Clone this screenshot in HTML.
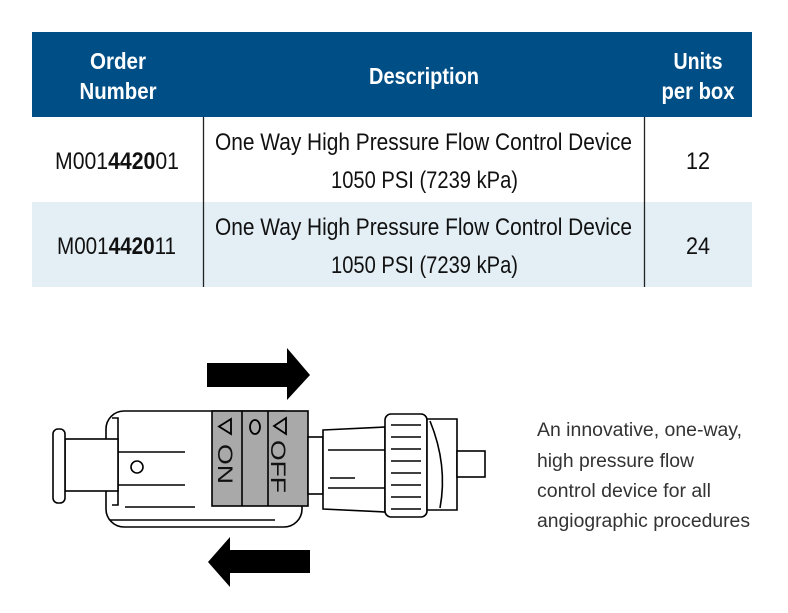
<!DOCTYPE html>
<html><head><meta charset="utf-8"><style>
html,body{margin:0;padding:0;background:#fff;}
svg{display:block;}
</style></head><body>
<svg width="788" height="613" viewBox="0 0 788 613" xmlns="http://www.w3.org/2000/svg" font-family="Liberation Sans, sans-serif">
<rect x="32" y="32" width="720" height="85" fill="#004e86"/>
<rect x="32" y="117" width="720" height="85" fill="#ffffff"/>
<rect x="32" y="202" width="720" height="85" fill="#e3eef5"/>
<line x1="203.5" y1="117" x2="203.5" y2="287" stroke="#222" stroke-width="1.3"/>
<line x1="644.5" y1="117" x2="644.5" y2="287" stroke="#222" stroke-width="1.3"/>
<g fill="#fff" font-weight="bold" font-size="23" text-anchor="middle">
<text x="118" y="69" textLength="56" lengthAdjust="spacingAndGlyphs">Order</text>
<text x="118" y="99" textLength="77" lengthAdjust="spacingAndGlyphs">Number</text>
<text x="424" y="84" textLength="110" lengthAdjust="spacingAndGlyphs">Description</text>
<text x="698" y="69" textLength="49" lengthAdjust="spacingAndGlyphs">Units</text>
<text x="698" y="99" textLength="73" lengthAdjust="spacingAndGlyphs">per box</text>
</g>
<g fill="#111" font-size="24">
<text x="55" y="169" textLength="124" lengthAdjust="spacingAndGlyphs">M001<tspan font-weight="bold">4420</tspan>01</text>
<text x="57" y="254" textLength="119" lengthAdjust="spacingAndGlyphs">M001<tspan font-weight="bold">4420</tspan>11</text>
<text x="215" y="150" textLength="417" lengthAdjust="spacingAndGlyphs">One Way High Pressure Flow Control Device</text>
<text x="331" y="188" textLength="187" lengthAdjust="spacingAndGlyphs">1050 PSI (7239 kPa)</text>
<text x="215" y="235" textLength="417" lengthAdjust="spacingAndGlyphs">One Way High Pressure Flow Control Device</text>
<text x="331" y="273" textLength="187" lengthAdjust="spacingAndGlyphs">1050 PSI (7239 kPa)</text>
<text x="698" y="169" text-anchor="middle" textLength="24" lengthAdjust="spacingAndGlyphs">12</text>
<text x="698" y="254" text-anchor="middle" textLength="24" lengthAdjust="spacingAndGlyphs">24</text>
</g>
<polygon points="207,363 287,363 287,348 310,375 287,400 287,387 207,387" fill="#000"/>
<polygon points="310,550 230,550 230,537 208,562 230,587 230,573 310,573" fill="#000"/>
<g stroke="#000" stroke-width="1.6" fill="#fff">
<rect x="106" y="411" width="196" height="116" rx="18"/>
<path d="M112 418 L118 418 L118 505 L112 505" fill="none"/>
<rect x="65" y="439" width="53" height="52"/>
<rect x="53" y="429" width="12" height="74" rx="5"/>
<line x1="118" y1="452" x2="185" y2="452"/>
<line x1="118" y1="485" x2="185" y2="485"/>
<line x1="125" y1="507" x2="195" y2="507"/>
<line x1="110" y1="520" x2="275" y2="520"/>
<circle cx="137" cy="467" r="6"/>
<rect x="212" y="411" width="96" height="95" fill="#a9a9a9"/>
<line x1="242" y1="411" x2="242" y2="506"/>
<line x1="268" y1="411" x2="268" y2="506"/>
<rect x="308" y="437" width="15" height="57"/>
<path d="M323 430 L385 427 L385 512 L323 509 Z"/>
<line x1="328" y1="450" x2="385" y2="450"/>
<line x1="328" y1="488" x2="385" y2="488"/>
<line x1="330" y1="478" x2="355" y2="478"/>
<rect x="385" y="414" width="42" height="103" rx="6"/>
<line x1="391" y1="425" x2="421" y2="425"/><line x1="391" y1="437" x2="421" y2="437"/>
<line x1="391" y1="449" x2="421" y2="449"/><line x1="391" y1="461" x2="421" y2="461"/>
<line x1="391" y1="473" x2="421" y2="473"/><line x1="391" y1="485" x2="421" y2="485"/>
<line x1="391" y1="497" x2="421" y2="497"/><line x1="391" y1="509" x2="421" y2="509"/>
<path d="M427 419 L457 419 L457 510 L427 510 Z"/>
<path d="M430 421 Q448 465 440 508" fill="none"/>
<rect x="457" y="451" width="28" height="26"/>
<polygon points="231,419 231,434 219,426.5" fill="none" stroke-width="1.8"/>
<ellipse cx="255" cy="427" rx="5" ry="7" fill="none" stroke-width="1.8"/>
<polygon points="286,418 286,434 274,426" fill="none" stroke-width="1.8"/>
</g>
<g font-size="21" fill="#111">
<text transform="translate(218,444) rotate(90)" textLength="40" lengthAdjust="spacingAndGlyphs">ON</text>
<text transform="translate(271,440) rotate(90)" textLength="53" lengthAdjust="spacingAndGlyphs">OFF</text>
</g>
<g fill="#333" font-size="19">
<text x="537" y="436" textLength="205" lengthAdjust="spacingAndGlyphs">An innovative, one-way,</text>
<text x="537" y="467" textLength="157" lengthAdjust="spacingAndGlyphs">high pressure flow</text>
<text x="537" y="497" textLength="174" lengthAdjust="spacingAndGlyphs">control device for all</text>
<text x="537" y="527" textLength="213" lengthAdjust="spacingAndGlyphs">angiographic procedures</text>
</g>
</svg>
</body></html>
